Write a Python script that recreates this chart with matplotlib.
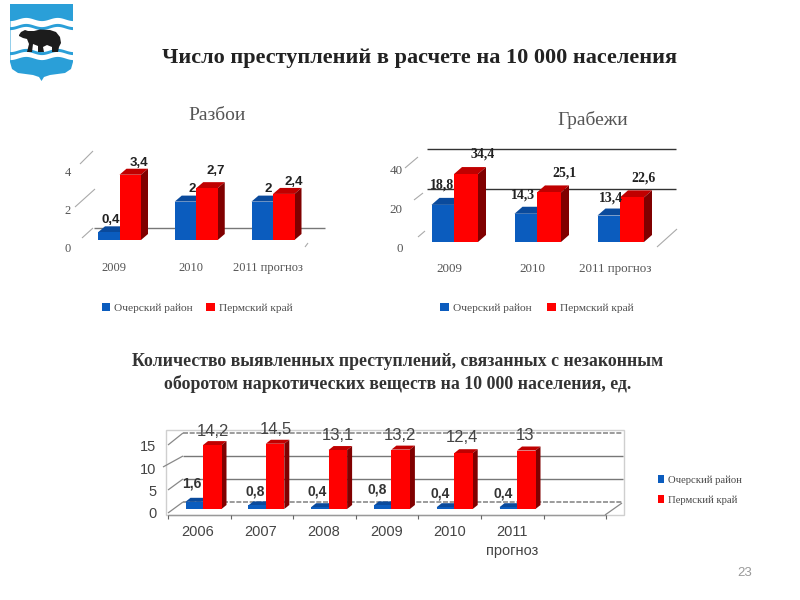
import numpy as np
import matplotlib
matplotlib.use("Agg")
import matplotlib.pyplot as plt
from matplotlib.patches import Polygon, Rectangle
from matplotlib.transforms import ScaledTranslation

W, H = 800, 600
SERIES = ["Очерский район", "Пермский край"]
BLUE, BLUE_TOP, BLUE_SIDE = "#0B5CBE", "#0A4A9C", "#083A7C"
RED, RED_TOP, RED_SIDE = "#FF0000", "#C00000", "#800000"

rob_cats = ["2009", "2010", "2011 прогноз"]
rob_district = [0.4, 2, 2]
rob_region = [3.4, 2.7, 2.4]
rob_ticks = [0, 2, 4]

grab_cats = ["2009", "2010", "2011 прогноз"]
grab_district = [18.8, 14.3, 13.4]
grab_region = [34.4, 25.1, 22.6]
grab_ticks = [0, 20, 40]

drug_cats = ["2006", "2007", "2008", "2009", "2010", "2011\nпрогноз"]
drug_district = [1.6, 0.8, 0.4, 0.8, 0.4, 0.4]
drug_region = [14.2, 14.5, 13.1, 13.2, 12.4, 13]
drug_ticks = [0, 5, 10, 15]

fig = plt.figure(figsize=(W / 100, H / 100), dpi=100, facecolor="white")


def overlay(z):
    a = fig.add_axes([0, 0, 1, 1], zorder=z)
    a.set_xlim(0, W)
    a.set_ylim(H, 0)
    a.axis("off")
    a.patch.set_alpha(0)
    return a


under = overlay(0)
over = overlay(10)


def fmt(v):
    return str(v).replace(".", ",")


def seg(a, x0, y0, x1, y1, c="#9A9A9A", lw=0.9, ls="-"):
    a.plot([x0, x1], [y0, y1], color=c, lw=lw, ls=ls, solid_capstyle="butt")


def chart(cats, d1, d2, ticks, c0, sp, base, ppu, w1, w2, dx, dy, box, xshift, yshift,
          tickfont, tickcolor, ticksize, pad, linespacing=1.15):
    x0, y0, x1, y1 = box
    ax = fig.add_axes([x0 / W, 1 - y1 / H, (x1 - x0) / W, (y1 - y0) / H], zorder=5)
    ax.set_xlim((x0 - c0) / sp, (x1 - c0) / sp)
    ax.set_ylim((base - y1) / ppu, (base - y0) / ppu)
    ax.patch.set_alpha(0)
    for s in ax.spines.values():
        s.set_visible(False)
    xs = np.arange(len(cats))
    ddx, ddy = dx / sp, dy / ppu
    for vals, left, wid, fc, top, side, lab in (
        (d1, xs - w1 / sp, w1 / sp, BLUE, BLUE_TOP, BLUE_SIDE, SERIES[0]),
        (d2, xs, w2 / sp, RED, RED_TOP, RED_SIDE, SERIES[1]),
    ):
        bars = ax.bar(left, vals, wid, align="edge", color=fc, label=lab, zorder=3)
        for r in bars:
            bx, bw, bh = r.get_x(), r.get_width(), r.get_height()
            ax.add_patch(Polygon([(bx, bh), (bx + ddx, bh + ddy), (bx + bw + ddx, bh + ddy), (bx + bw, bh)],
                                 fc=top, ec="none", zorder=2, clip_on=False))
            ax.add_patch(Polygon([(bx + bw, 0), (bx + bw + ddx, ddy), (bx + bw + ddx, bh + ddy), (bx + bw, bh)],
                                 fc=side, ec="none", zorder=2, clip_on=False))
    ax.set_xticks(xs)
    ax.set_xticklabels(cats, family=tickfont, color=tickcolor, fontsize=ticksize, linespacing=linespacing)
    ax.set_yticks(ticks)
    ax.set_yticklabels([str(t) for t in ticks], family=tickfont, color=tickcolor, fontsize=ticksize)
    ax.tick_params(axis="both", length=0, pad=pad)
    ox = ScaledTranslation(xshift / 100, 0, fig.dpi_scale_trans)
    oy = ScaledTranslation(0, yshift / 100, fig.dpi_scale_trans)
    for l in ax.get_xticklabels():
        l.set_transform(l.get_transform() + ox)
    for l in ax.get_yticklabels():
        l.set_transform(l.get_transform() + oy)
    return ax


def labels(vals, pos, **kw):
    for v, (x, y) in zip(vals, pos):
        over.text(x, y, fmt(v), ha="center", va="center", **kw)


def legend(ax, anchor, size, family, ncol, cs=1.2, hl=0.75, ls=0.75):
    ax.legend(loc="center", bbox_to_anchor=anchor, bbox_transform=over.transData, ncol=ncol,
              frameon=False, handlelength=hl, handleheight=0.75, handletextpad=0.35,
              columnspacing=cs, labelspacing=ls, borderpad=0,
              prop={"family": family, "size": size}, labelcolor="#4A4A4A")


# ---- logo
shield = [(10, 4), (73, 4), (73, 62), (71, 69), (65, 73), (50, 75), (44, 77), (41.5, 81), (39, 77),
          (33, 75), (18, 73), (12, 69), (10, 62)]
clip = Polygon(shield, fc="#2A9FD8", ec="none", zorder=1)
under.add_patch(clip)


def wave(y, amp=1.6):
    x = np.linspace(10, 73, 60)
    return x, y + amp * np.cos((x - 10) / 63 * 2 * np.pi * 2.0)


x, top_w = wave(19)
x, bot_w = wave(25)
b = under.fill_between(x, top_w, bot_w, color="white", lw=0, zorder=2)
b.set_clip_path(clip)
x, t2 = wave(28)
x, b2 = wave(50)
b = under.fill_between(x, t2, b2, color="white", lw=0, zorder=2)
b.set_clip_path(clip)
x, t3 = wave(53)
x, b3 = wave(58)
b = under.fill_between(x, t3, b3, color="white", lw=0, zorder=2)
b.set_clip_path(clip)
bear = [(19, 35), (21, 32), (25, 30), (28, 31), (34, 31), (40, 29.5), (50, 30), (56, 32), (60, 37), (61, 43),
        (59, 47), (58, 52), (52, 52), (52, 47), (47, 45), (43, 47), (44, 52), (38, 52), (38, 46), (33, 44),
        (32, 52), (27, 52), (29, 44), (27, 39), (23, 38), (19, 36)]
under.add_patch(Polygon(bear, fc="#1C1C1C", ec="none", zorder=3))

# ---- titles
over.text(420, 58, "Число преступлений в расчете на 10 000 населения", ha="center", va="center",
          family="Liberation Serif", weight="bold", fontsize=16, color="#222222")
over.text(217, 116, "Разбои", ha="center", va="center", family="Liberation Serif", fontsize=14, color="#555555")
over.text(593, 120, "Грабежи", ha="center", va="center", family="Liberation Serif", fontsize=14, color="#555555")
over.text(398, 361, "Количество выявленных преступлений, связанных с незаконным", ha="center", va="center",
          family="Liberation Serif", weight="bold", fontsize=12.8, color="#333333")
over.text(398, 384, "оборотом наркотических веществ на 10 000 населения, ед.", ha="center", va="center",
          family="Liberation Serif", weight="bold", fontsize=12.8, color="#333333")
over.text(745, 573, "23", ha="center", va="center", family="Liberation Sans", fontsize=9.5, color="#999999")

# ---- chart 1 decoration
seg(under, 94, 228, 325, 228, c="#777777", lw=1)
for a_ in [(82, 238, 93, 228), (75, 207, 95, 189), (80, 164, 93, 151), (305, 247, 308, 243)]:
    seg(under, *a_, c="#AAAAAA", lw=0.8)
# ---- chart 2 decoration
seg(under, 427, 149, 676, 149, c="#333333", lw=1)
seg(under, 427, 189, 676, 189, c="#333333", lw=1)
for a_ in [(405, 168, 418, 157), (414, 200, 423, 193), (418, 237, 425, 231), (657, 247, 677, 229)]:
    seg(under, *a_, c="#AAAAAA", lw=0.8)
# ---- chart 3 decoration
under.add_patch(Rectangle((166, 430), 458, 85, fc="none", ec="#CFCFCF", lw=1))
for yy in (456, 479):
    seg(under, 183, yy, 623, yy, c="#777777", lw=1)
for yy in (433, 502):
    seg(under, 183, yy, 623, yy, c="#8A8A8A", lw=1.2, ls=(0, (3, 1)))
for a_ in [(168, 445, 183, 433), (163, 467, 183, 456), (168, 490, 183, 479), (168, 513, 183, 502), (605, 515, 622, 503)]:
    seg(under, *a_, c="#888888", lw=0.9)
seg(under, 168, 515, 606, 515, c="#999999", lw=1)
for i in range(8):
    xt = 168 + i * 62.6
    seg(under, xt, 515, xt, 519, c="#666666", lw=0.8)

# ---- charts
ax1 = chart(rob_cats, rob_district, rob_region, rob_ticks, 119.5, 76.75, 240, 19.2, 21.5, 21.5, 7, 6,
            (75, 130, 330, 258), -5.5, -8, "Liberation Serif", "#555555", 9, 3)
legend(ax1, (197, 308), 8.2, "Liberation Serif", 2)
labels(rob_district, [(111, 220), (192, 189), (268, 189)], family="Liberation Sans", weight="bold", fontsize=9.5, color="#222222")
labels(rob_region, [(139, 163), (216, 171), (294, 182)], family="Liberation Sans", weight="bold", fontsize=9.5, color="#222222")

ax2 = chart(grab_cats, grab_district, grab_region, grab_ticks, 454, 83, 242, 1.975, 22.5, 24, 8, 7,
            (407, 130, 680, 259), -5, -6, "Liberation Serif", "#555555", 9.4, 3)
legend(ax2, (537, 308), 8.2, "Liberation Serif", 2, cs=1.4)
labels(grab_district, [(442, 185), (523, 195), (611, 198)], family="Liberation Serif", weight="bold", fontsize=10, color="#222222")
labels(grab_region, [(483, 154), (564, 173), (643, 178)], family="Liberation Serif", weight="bold", fontsize=10, color="#222222")

ax3 = chart(drug_cats, drug_district, drug_region, drug_ticks, 203, 62.8, 509, 4.5, 17.5, 18.5, 5, 4,
            (159, 420, 625, 522), -5, -4, "Liberation Sans", "#444444", 10.5, 2, linespacing=1.5)
legend(ax3, (700, 490), 7.7, "Liberation Serif", 1, hl=0.55, ls=0.95)
labels(drug_district, [(192, 483), (255, 491), (317, 491), (377, 490), (440, 493), (503, 493)],
       family="Liberation Sans", weight="bold", fontsize=10, color="#333333")
labels(drug_region, [(213, 431), (276, 430), (338, 435), (400, 435), (462, 438), (525, 436)],
       family="Liberation Sans", fontsize=12, color="#444444")

fig.savefig("out.png", dpi=100)
